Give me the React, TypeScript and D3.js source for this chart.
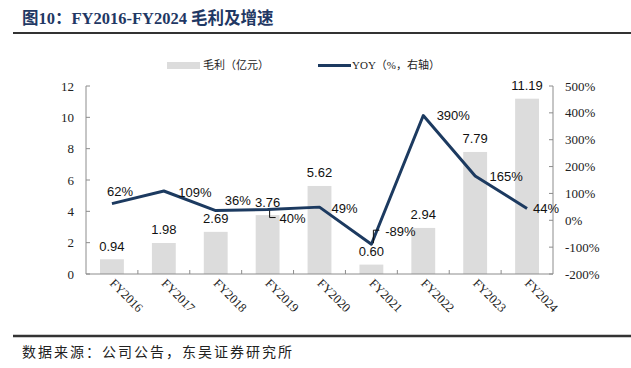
import React from "react";
import * as d3 from "d3";

const categories = ["FY2016", "FY2017", "FY2018", "FY2019", "FY2020", "FY2021", "FY2022", "FY2023", "FY2024"];
const grossProfit = [0.94, 1.98, 2.69, 3.76, 5.62, 0.6, 2.94, 7.79, 11.19];
const yoy = [62, 109, 36, 40, 49, -89, 390, 165, 44];
const leftTicks = [0, 2, 4, 6, 8, 10, 12];
const rightTicks = [-200, -100, 0, 100, 200, 300, 400, 500];

// label placement offsets relative to the point (style only)
const yoyLabelOffsets: [number, number][] = [
  [8, -12], [31, 1], [22, -10], [25, 9], [25, 1], [29, -13], [30, 0], [31, 1], [19, 0],
];

const W = 631, H = 368;
const left = 86, right = 553, top = 86, bottom = 274;
const NAVY = "#1c3a60";
const BAR = "#dcdcdc";
const AXIS = "#8c8c8c";
const SERIF = "'Liberation Serif', 'Times New Roman', serif";
const SANS = "'Liberation Sans', Arial, sans-serif";
const CJK = "'Liberation Serif', 'Noto Sans CJK SC', serif";

export default function App() {
  const x = d3.scaleBand<string>().domain(categories).range([left, right]).paddingInner(0.54).paddingOuter(0.27);
  const yL = d3.scaleLinear().domain([0, 12]).range([bottom, top]);
  const yR = d3.scaleLinear().domain([-200, 500]).range([bottom, top]);
  const cx = (c: string) => (x(c) as number) + x.bandwidth() / 2;
  const line = d3.line<number>().x((_, i) => cx(categories[i])).y((v) => yR(v));
  const step = (right - left) / categories.length;

  return (
    <svg width={W} height={H} style={{ position: "absolute", left: 0, top: 0, background: "#fff" }}>
      <text x={22} y={24} fontFamily={CJK} fontWeight="bold" fontSize={16.5} fill="#1f3864">
        图10：FY2016-FY2024 毛利及增速
      </text>
      <line x1={13} x2={631} y1={33} y2={33} stroke="#333" strokeWidth={2} />

      {/* legend */}
      <rect x={167} y={62} width={33} height={7} fill={BAR} />
      <text x={203} y={69} fontFamily={CJK} fontSize={11} fill="#222">毛利（亿元）</text>
      <line x1={318} x2={351} y1={65.5} y2={65.5} stroke={NAVY} strokeWidth={3} />
      <text x={352} y={69} fontFamily={CJK} fontSize={11} fill="#222">YOY（%，右轴）</text>

      {/* bars */}
      {grossProfit.map((v, i) => (
        <rect key={i} x={x(categories[i])} y={yL(v)} width={x.bandwidth()} height={bottom - yL(v)} fill={BAR} />
      ))}

      {/* axes */}
      <line x1={left} x2={left} y1={top} y2={bottom} stroke={AXIS} />
      <line x1={right} x2={right} y1={top} y2={bottom} stroke={AXIS} />
      <line x1={left} x2={right} y1={bottom} y2={bottom} stroke={AXIS} />
      {leftTicks.map((t) => (
        <g key={"l" + t}>
          <line x1={left} x2={left + 4} y1={yL(t)} y2={yL(t)} stroke={AXIS} />
          <text x={74} y={yL(t) + 4.5} textAnchor="end" fontFamily={SERIF} fontSize={13} fill="#222">{t}</text>
        </g>
      ))}
      {rightTicks.map((t) => (
        <g key={"r" + t}>
          <line x1={right - 4} x2={right} y1={yR(t)} y2={yR(t)} stroke={AXIS} />
          <text x={565} y={yR(t) + 4.5} fontFamily={SERIF} fontSize={13} fill="#222">{t}%</text>
        </g>
      ))}
      {d3.range(1, categories.length).map((i) => (
        <line key={"xt" + i} x1={left + step * i} x2={left + step * i} y1={bottom - 4} y2={bottom} stroke={AXIS} />
      ))}
      {categories.map((c) => (
        <text key={c} transform={`translate(${cx(c) - 3},${bottom + 10}) rotate(45)`} fontFamily={SERIF} fontSize={12.5} fill="#222">
          {c}
        </text>
      ))}

      {/* bar labels */}
      {grossProfit.map((v, i) => (
        <text key={"bl" + i} x={cx(categories[i])} y={yL(v) - 13 + 4.5} textAnchor="middle" fontFamily={SANS} fontSize={13} fill="#111">
          {v.toFixed(2)}
        </text>
      ))}

      {/* line */}
      <path d={line(yoy) as string} fill="none" stroke={NAVY} strokeWidth={3} strokeLinejoin="round" />

      {/* leaders */}
      <path d={`M${cx(categories[3]) + 2},${yR(yoy[3]) + 1} V${yR(yoy[3]) + 8} H${cx(categories[3]) + 8}`} fill="none" stroke="#111" strokeWidth={1} />
      <path d={`M${cx(categories[5]) + 2},${yR(yoy[5]) - 1} V${yR(yoy[5]) - 14} H${cx(categories[5]) + 8}`} fill="none" stroke="#111" strokeWidth={1} />

      {/* yoy labels */}
      {yoy.map((v, i) => (
        <text key={"yl" + i} x={cx(categories[i]) + yoyLabelOffsets[i][0]} y={yR(v) + yoyLabelOffsets[i][1] + 4.5} textAnchor="middle" fontFamily={SANS} fontSize={13} fill="#111">
          {v}%
        </text>
      ))}

      <line x1={13} x2={631} y1={336} y2={336} stroke="#333" strokeWidth={2.5} />
      <text x={22} y={357} fontFamily={CJK} fontSize={14} letterSpacing={2} fill="#222">数据来源：公司公告，东吴证券研究所</text>
    </svg>
  );
}
